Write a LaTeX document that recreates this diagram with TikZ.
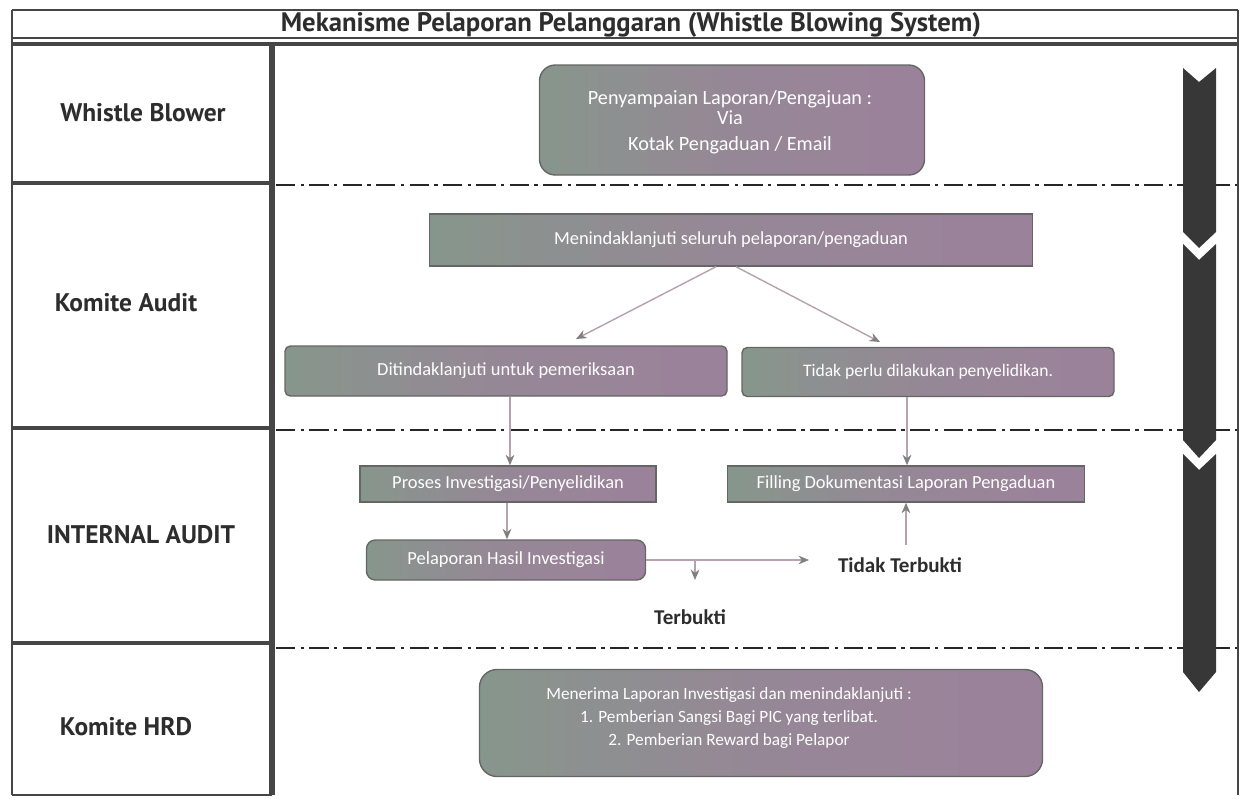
\documentclass[tikz,border=0pt]{standalone}
\usepackage{fontspec}
\setmainfont{Carlito}
\newfontfamily\labfont{PT Sans}
\usetikzlibrary{arrows.meta}
\definecolor{frameline}{RGB}{70,70,70}
\definecolor{boxleft}{RGB}{135,150,140}
\definecolor{boxright}{RGB}{155,130,155}
\definecolor{boxmid}{RGB}{150,135,150}
\definecolor{conn}{RGB}{185,160,175}
\definecolor{chev}{RGB}{55,55,55}
\definecolor{labtext}{RGB}{45,45,45}
\tikzset{
  fbox/.style={draw=gray!80!black, line width=0.8pt, left color=boxleft, right color=boxright, middle color=boxmid,
     text=white, font=\fontsize{10.5}{12}\selectfont, align=center, inner sep=0pt},
  rbox/.style={fbox, rounded corners=6pt},
  lanelab/.style={font=\labfont\bfseries\fontsize{14.5}{16}\selectfont, text=labtext},
  conline/.style={draw=conn, line width=0.8pt, -{Stealth[length=6pt,width=5pt,color=gray]}},
  dashdot/.style={draw=black!85, line width=1.1pt, dash pattern=on 11pt off 3pt on 2pt off 3pt},
  thickline/.style={draw=frameline, line width=2.2pt},
  outcome/.style={font=\bfseries\fontsize{12}{14}\selectfont, text=labtext}
}
\begin{document}
\begin{tikzpicture}[x=0.02cm, y=-0.02cm]
\useasboundingbox (0,0) rectangle (1243,798);
% frame
\draw[frameline, line width=1.4pt] (12,10) -- (1238,10);
\draw[frameline, line width=1.4pt] (12,10) -- (12,795);
\draw[frameline, line width=1.4pt] (1238,10) -- (1238,795);
\draw[thickline, line width=1.6pt] (12,38) -- (1238,38);
\draw[thickline, line width=2.4pt] (12,44) -- (1238,44);
\draw[thickline, line width=3pt] (272,44) -- (272,795);
\draw[thickline] (12,183) -- (272,183);
\draw[thickline] (12,428) -- (272,428);
\draw[thickline] (12,643) -- (272,643);
\draw[thickline, line width=1.6pt] (12,795) -- (272,795);
% title
\node[font=\labfont\bfseries\fontsize{15.2}{17}\selectfont, text=labtext] (title) at (631,25) {Mekanisme Pelaporan Pelanggaran (Whistle Blowing System)};
% lane labels
\node[lanelab] (l1) at (143,113) {Whistle Blower};
\node[lanelab] (l2) at (126,303) {Komite Audit};
\node[lanelab] (l3) at (141,535) {INTERNAL AUDIT};
\node[lanelab] (l4) at (126,727) {Komite HRD};
% dash-dot separators
\draw[dashdot] (276,185) -- (1237,185);
\draw[dashdot] (276,430) -- (1237,430);
\draw[dashdot] (276,648) -- (1237,648);
% chevron arrow
\fill[chev] (1183,68) -- (1199,82) -- (1216,68) -- (1216,232) -- (1199,248) -- (1183,232) -- cycle;
\fill[chev] (1183,244) -- (1199,260) -- (1216,244) -- (1216,440) -- (1199,458) -- (1183,440) -- cycle;
\fill[chev] (1183,454) -- (1199,470) -- (1216,454) -- (1216,672) -- (1199,692) -- (1183,672) -- cycle;
% boxes
\node[rbox, rounded corners=9pt, minimum width=385*0.02cm, minimum height=110*0.02cm] (b1) at (732,120) {};
\node[text=white, align=center, font=\fontsize{11.5}{11.5}\selectfont] (b1t) at (730,122)
  {Penyampaian Laporan/Pengajuan :\\ Via\\[3pt] Kotak Pengaduan / Email};
\node[fbox, minimum width=603*0.02cm, minimum height=52*0.02cm] (b2) at (731,240)
  {Menindaklanjuti seluruh pelaporan/pengaduan};
\node[rbox, rounded corners=3pt, minimum width=442*0.02cm, minimum height=50*0.02cm] (b3) at (506,371)
  {Ditindaklanjuti untuk pemeriksaan};
\node[rbox, rounded corners=3pt, minimum width=372*0.02cm, minimum height=49*0.02cm, font=\fontsize{10}{12}\selectfont] (b4) at (928,372)
  {Tidak perlu dilakukan penyelidikan.};
\node[fbox, minimum width=296*0.02cm, minimum height=36*0.02cm] (b5) at (508,484)
  {Proses Investigasi/Penyelidikan};
\node[fbox, minimum width=357*0.02cm, minimum height=36*0.02cm] (b6) at (906,484)
  {Filling Dokumentasi Laporan Pengaduan};
\node[rbox, rounded corners=5pt, minimum width=279*0.02cm, minimum height=40*0.02cm] (b7) at (506,560)
  {Pelaporan Hasil Investigasi};
\node[rbox, rounded corners=10pt, minimum width=563*0.02cm, minimum height=107*0.02cm] (b8) at (761,723) {};
\node[text=white, align=center, font=\fontsize{9.8}{12}\selectfont] (b8t) at (729,718)
  {Menerima Laporan Investigasi dan menindaklanjuti :\\[1pt] 1. Pemberian Sangsi Bagi PIC yang terlibat.\\[1pt] 2. Pemberian Reward bagi Pelapor};
% outcome labels
\node[outcome] (tt) at (900,565) {Tidak Terbukti};
\node[outcome] (tb) at (690,617) {Terbukti};
\coordinate (split) at (695,560);
\coordinate (tbend) at (695,580);
\coordinate (ttend) at (809,560);
\coordinate (ttup) at (906,545);
\coordinate (aL) at (576,339);
\coordinate (aR) at (880,342);
% connectors
\draw[conline] ([xshift=-0.3cm]b2.south) -- (aL);
\draw[conline] ([xshift=0.1cm]b2.south) -- (aR);
\draw[conline] (b3.south -| 510,0) -- (b5.north -| 510,0);
\draw[conline] (b4.south -| 907,0) -- (b6.north -| 907,0);
\draw[conline] (b5.south -| 507,0) -- (b7.north -| 507,0);
\draw[conline] (b7.east) -- (ttend);
\draw[conline] (split) -- (tbend);
\draw[conline] (ttup) -- (b6.south -| ttup);
\end{tikzpicture}
\end{document}
